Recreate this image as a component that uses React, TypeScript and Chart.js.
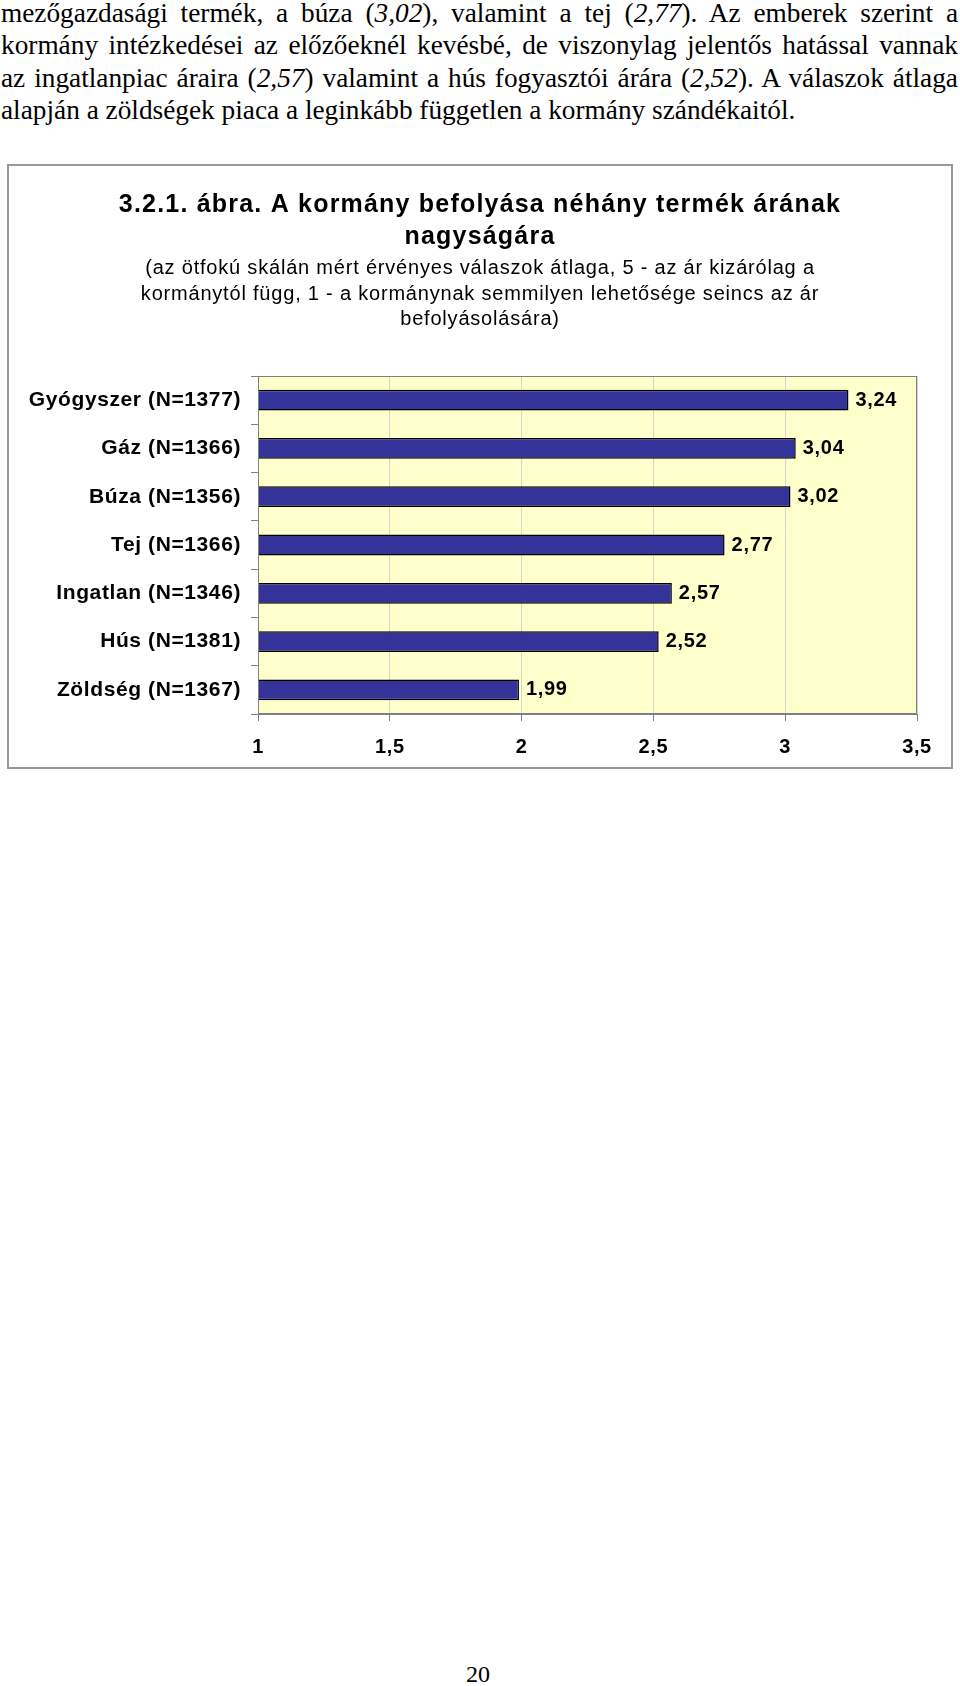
import React, { useEffect, useRef } from 'react';
import { Chart, registerables } from 'chart.js';

Chart.register(...registerables);

const categories = [
  'Gyógyszer (N=1377)',
  'Gáz (N=1366)',
  'Búza (N=1356)',
  'Tej (N=1366)',
  'Ingatlan (N=1346)',
  'Hús (N=1381)',
  'Zöldség (N=1367)',
];
const values = [3.24, 3.04, 3.02, 2.77, 2.57, 2.52, 1.99];
const xTickValues = [1, 1.5, 2, 2.5, 3, 3.5];
const xTickLabels = ['1', '1,5', '2', '2,5', '3', '3,5'];
const titleLines = ['3.2.1. ábra. A kormány befolyása néhány termék árának', 'nagyságára'];
const subtitleLines = [
  '(az ötfokú skálán mért érvényes válaszok átlaga, 5 - az ár kizárólag a',
  'kormánytól függ, 1 - a kormánynak semmilyen lehetősége seincs az ár',
  'befolyásolására)',
];

const SANS = "'Liberation Sans', Arial, sans-serif";
const SERIF = "'Liberation Serif', 'Times New Roman', serif";

const fmt = (v: number) => v.toFixed(2).replace('.', ',');

const plotDecor = {
  id: 'plotDecor',
  beforeDraw(chart: any) {
    const { ctx, chartArea } = chart;
    ctx.letterSpacing = '0.6px';
    ctx.save();
    ctx.fillStyle = '#FFFFCC';
    ctx.fillRect(chartArea.left, chartArea.top, chartArea.right - chartArea.left, chartArea.bottom - chartArea.top);
    ctx.restore();
  },
  afterDraw(chart: any) {
    const { ctx, chartArea } = chart;
    ctx.save();
    ctx.strokeStyle = '#808080';
    ctx.lineWidth = 1;
    ctx.strokeRect(
      Math.round(chartArea.left) + 0.5,
      Math.round(chartArea.top) + 0.5,
      Math.round(chartArea.right - chartArea.left) - 1,
      Math.round(chartArea.bottom - chartArea.top) - 1
    );
    // title and subtitle
    const cx = chart.width / 2;
    ctx.fillStyle = '#000';
    ctx.textAlign = 'center';
    ctx.textBaseline = 'middle';
    ctx.font = `bold 25px ${SANS}`;
    ctx.letterSpacing = '1.2px';
    titleLines.forEach((t, i) => ctx.fillText(t, cx, 39 + i * 32));
    ctx.font = `20px ${SANS}`;
    ctx.letterSpacing = '0.8px';
    subtitleLines.forEach((t, i) => ctx.fillText(t, cx, 102.6 + i * 25.5));
    ctx.restore();
  },
};

const valueLabels = {
  id: 'valueLabels',
  afterDatasetsDraw(chart: any) {
    const { ctx } = chart;
    const meta = chart.getDatasetMeta(0);
    ctx.save();
    ctx.font = `bold 20px ${SANS}`;
    ctx.letterSpacing = '0.7px';
    ctx.fillStyle = '#000';
    ctx.textAlign = 'left';
    ctx.textBaseline = 'middle';
    meta.data.forEach((bar: any, i: number) => {
      ctx.fillText(fmt(values[i]), bar.x + 7, bar.y);
    });
    ctx.restore();
  },
};

function BarChart() {
  const ref = useRef<HTMLCanvasElement | null>(null);
  useEffect(() => {
    if (!ref.current) return;
    const chart = new Chart(ref.current, {
      type: 'bar',
      data: {
        labels: categories,
        datasets: [
          {
            data: values,
            base: 1,
            backgroundColor: '#333399',
            borderColor: '#000000',
            borderWidth: 1.5,
            barPercentage: 0.43,
            categoryPercentage: 1,
          } as any,
        ],
      },
      options: {
        indexAxis: 'y',
        animation: false,
        responsive: false,
        maintainAspectRatio: false,
        layout: { padding: { left: 0, right: 34, top: 210, bottom: 0 } },
        plugins: {
          legend: { display: false },
          tooltip: { enabled: false },
          title: { display: false },
          subtitle: { display: false },
        },
        scales: {
          x: {
            type: 'linear',
            min: 1,
            max: 3.5,
            afterBuildTicks: (s: any) => {
              s.ticks = xTickValues.map((v) => ({ value: v }));
            },
            afterFit: (s: any) => {
              s.height = 53;
            },
            ticks: {
              callback: (_v: any, i: number) => xTickLabels[i],
              font: { family: SANS, size: 20, weight: 'bold' },
              color: '#000',
              padding: 14,
              maxRotation: 0,
              autoSkip: false,
            },
            grid: { color: '#d4d4d4', tickColor: '#808080', tickLength: 7 },
            border: { color: '#808080', width: 1 },
          },
          y: {
            afterFit: (s: any) => {
              s.width = 249;
            },
            ticks: {
              font: { family: SANS, size: 21, weight: 'bold' },
              color: '#000',
              padding: 10,
              autoSkip: false,
            },
            grid: { drawOnChartArea: false, tickLength: 7, tickColor: '#808080', offset: true },
            border: { color: '#808080', width: 1 },
          },
        },
      } as any,
      plugins: [plotDecor, valueLabels],
    });
    return () => chart.destroy();
  }, []);
  return <canvas ref={ref} width={942} height={601} style={{ display: 'block', width: 942, height: 601 }} />;
}

const lineStyle: React.CSSProperties = { textAlign: 'justify', textAlignLast: 'justify' as any, whiteSpace: 'nowrap' };

export default function App() {
  return (
    <div style={{ position: 'absolute', left: 0, top: 0, width: 960, height: 1686, background: '#fff', overflow: 'hidden' }}>
      <div
        style={{
          position: 'absolute',
          left: 1,
          top: -3,
          width: 957,
          fontFamily: SERIF,
          fontSize: 27.3,
          lineHeight: '32.3px',
          color: '#000',
        }}
      >
        <div style={lineStyle}>
          mezőgazdasági termék, a búza (<i>3,02</i>), valamint a tej (<i>2,77</i>). Az emberek szerint a
        </div>
        <div style={lineStyle}>kormány intézkedései az előzőeknél kevésbé, de viszonylag jelentős hatással vannak</div>
        <div style={lineStyle}>
          az ingatlanpiac áraira (<i>2,57</i>) valamint a hús fogyasztói árára (<i>2,52</i>). A válaszok átlaga
        </div>
        <div style={{ whiteSpace: 'nowrap' }}>alapján a zöldségek piaca a leginkább független a kormány szándékaitól.</div>
      </div>
      <div
        style={{
          position: 'absolute',
          left: 7,
          top: 164,
          width: 946,
          height: 605,
          border: '2px solid #999',
          boxSizing: 'border-box',
        }}
      >
        <BarChart />
      </div>
      <div
        style={{
          position: 'absolute',
          left: 0,
          width: 960,
          top: 1660,
          textAlign: 'center',
          fontFamily: SERIF,
          fontSize: 24,
          lineHeight: '28px',
          color: '#000',
        }}
      >
        <span style={{ position: 'relative', left: -2 }}>20</span>
      </div>
    </div>
  );
}
